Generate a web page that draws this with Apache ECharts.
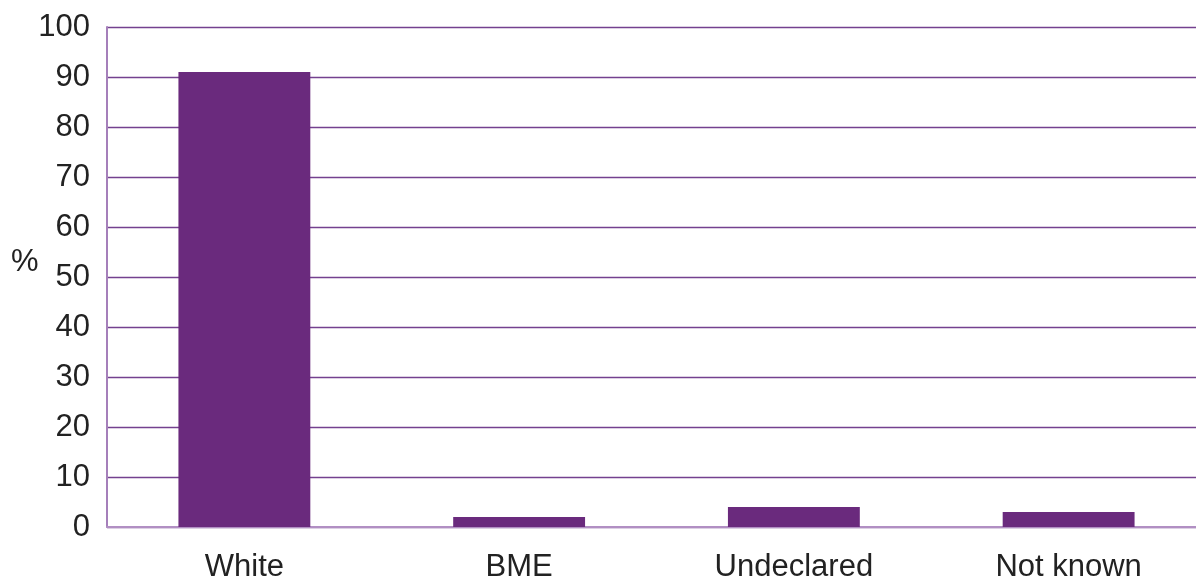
<!DOCTYPE html>
<html><head><meta charset="utf-8">
<script src="https://cdn.jsdelivr.net/npm/echarts@6/dist/echarts.min.js"></script>
<style>html,body{margin:0;padding:0;background:#fff}#c{width:1196px;height:579px}</style>
</head><body><div id="c"></div>
<script>
const categories = ['White', 'BME', 'Undeclared', 'Not known'];
const values = [91, 2, 4, 3];
const yTicks = [0, 10, 20, 30, 40, 50, 60, 70, 80, 90, 100];
const yAxisTitle = '%';

const FONT = 'Liberation Sans, Arial, sans-serif';
const chart = echarts.init(document.getElementById('c'), null, {renderer: 'canvas'});
chart.setOption({
  animation: false,
  backgroundColor: '#ffffff',
  grid: {left: 107, right: -10, top: 27, bottom: 52, containLabel: false, outerBoundsMode: 'none'},
  graphic: [{
    type: 'text', left: 11, top: 247,
    style: {text: yAxisTitle, fill: '#222', font: '31px ' + FONT}
  }],
  xAxis: {
    type: 'category',
    data: categories,
    axisLine: {show: true, lineStyle: {color: '#b18fc3', width: 2}},
    axisTick: {show: false},
    axisLabel: {color: '#222', fontSize: 31, fontFamily: FONT, margin: 25}
  },
  yAxis: {
    type: 'value',
    min: yTicks[0], max: yTicks[yTicks.length - 1], interval: 10,
    axisLine: {show: true, lineStyle: {color: '#a57fba', width: 2}},
    axisTick: {show: false},
    splitLine: {show: true, lineStyle: {color: '#74418f', width: 1.4}},
    axisLabel: {color: '#222', fontSize: 31, fontFamily: FONT, margin: 17}
  },
  series: [{
    type: 'bar',
    data: values,
    barWidth: '48%',
    itemStyle: {color: '#6a2a7d'}
  }]
});
</script></body></html>
